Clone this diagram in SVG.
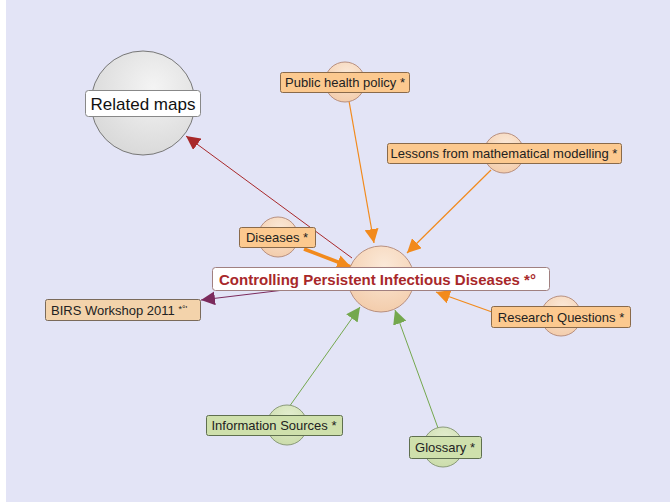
<svg xmlns="http://www.w3.org/2000/svg" width="670" height="502" viewBox="0 0 670 502">
<defs>
<radialGradient id="gGray" cx="0.6" cy="0.35" r="0.75"><stop offset="0" stop-color="#f4f4f4"/><stop offset="1" stop-color="#d6d6d6"/></radialGradient>
<radialGradient id="gPeach" cx="0.55" cy="0.3" r="0.8"><stop offset="0" stop-color="#fbe9d8"/><stop offset="1" stop-color="#f2c9a6"/></radialGradient>
<radialGradient id="gGreen" cx="0.55" cy="0.3" r="0.8"><stop offset="0" stop-color="#e4eed0"/><stop offset="1" stop-color="#c8daa6"/></radialGradient>
<marker id="aOrange" viewBox="0 0 10 10" refX="10" refY="5" markerWidth="14" markerHeight="14" markerUnits="userSpaceOnUse" orient="auto"><path d="M0,0 L10,5 L0,10 z" fill="#f28a1c"/></marker>
<marker id="aRed" viewBox="0 0 10 10" refX="10" refY="5" markerWidth="14" markerHeight="14" markerUnits="userSpaceOnUse" orient="auto"><path d="M0,0 L10,5 L0,10 z" fill="#a8282a"/></marker>
<marker id="aPurple" viewBox="0 0 10 10" refX="10" refY="5" markerWidth="14" markerHeight="14" markerUnits="userSpaceOnUse" orient="auto"><path d="M0,0 L10,5 L0,10 z" fill="#7b2a5c"/></marker>
<marker id="aGreen" viewBox="0 0 10 10" refX="10" refY="5" markerWidth="14" markerHeight="14" markerUnits="userSpaceOnUse" orient="auto"><path d="M0,0 L10,5 L0,10 z" fill="#74a84e"/></marker>
</defs>
<style>
.lbl{font-family:"Liberation Sans",Arial,sans-serif;font-size:13px;fill:#222}
.orangeBox{fill:#fcc98f;stroke:#8a6a4a;stroke-width:1}
.greenBox{fill:#cfe0ac;stroke:#5f6f4f;stroke-width:1}
.peachC{fill:url(#gPeach);stroke:#b89080;stroke-width:1}
.greenC{fill:url(#gGreen);stroke:#8a9a7a;stroke-width:1}
.eO{stroke:#f28a1c;stroke-width:1.2;fill:none}
.eG{stroke:#74a84e;stroke-width:1;fill:none}
</style>
<rect x="0" y="0" width="670" height="502" fill="#ffffff"/>
<rect x="6" y="0" width="664" height="502" fill="#e3e4f6"/>
<g id="connectors">
<line x1="352" y1="258" x2="186" y2="136" stroke="#a8282a" stroke-width="1" marker-end="url(#aRed)"/>
<line x1="349" y1="101" x2="374" y2="243" class="eO" marker-end="url(#aOrange)"/>
<line x1="491" y1="170" x2="407" y2="253" class="eO" marker-end="url(#aOrange)"/>
<line x1="304" y1="249" x2="351" y2="267" stroke="#f28a1c" stroke-width="3.5" marker-end="url(#aOrange)"/>
<line x1="492" y1="312" x2="436" y2="292" class="eO" marker-end="url(#aOrange)"/>
<line x1="284" y1="290" x2="201" y2="300" stroke="#7b2a5c" stroke-width="1" marker-end="url(#aPurple)"/>
<line x1="289" y1="407" x2="360" y2="307" class="eG" marker-end="url(#aGreen)"/>
<line x1="438" y1="428" x2="395" y2="310" class="eG" marker-end="url(#aGreen)"/>
</g>
<g id="related-maps">
<circle cx="143" cy="103" r="52" fill="url(#gGray)" stroke="#777" stroke-width="1"/>
<rect x="85.5" y="90.5" width="115" height="26" rx="3" fill="#fff" stroke="#888"/>
<text x="143" y="109.5" text-anchor="middle" font-family="Liberation Sans,Arial,sans-serif" font-size="17" fill="#111">Related maps</text>
</g>
<g id="public-health-policy">
<circle cx="345" cy="82" r="20" class="peachC"/>
<rect x="280.5" y="72.5" width="129" height="20" rx="2" class="orangeBox"/>
<text x="345" y="87" text-anchor="middle" class="lbl">Public health policy *</text>
</g>
<g id="lessons">
<circle cx="504" cy="153" r="20" class="peachC"/>
<rect x="387.5" y="143.5" width="234" height="20" rx="2" class="orangeBox"/>
<text x="504" y="158" text-anchor="middle" class="lbl">Lessons from mathematical modelling *</text>
</g>
<g id="diseases">
<circle cx="278" cy="237" r="20" class="peachC"/>
<rect x="239.5" y="227.5" width="76" height="20" rx="2" class="orangeBox"/>
<text x="277" y="242" text-anchor="middle" class="lbl">Diseases *</text>
</g>
<g id="central">
<circle cx="381" cy="279" r="33" class="peachC"/>
<rect x="212.5" y="267.5" width="337" height="23" rx="3" fill="#fff" stroke="#a08080"/>
<text x="219" y="284.5" font-family="Liberation Sans,Arial,sans-serif" font-size="15" font-weight="bold" fill="#a8282a">Controlling Persistent Infectious Diseases *°</text>
</g>
<g id="birs">
<rect x="45.5" y="299.5" width="155" height="21" rx="2" fill="#f3d3ab" stroke="#7a6a5a"/>
<text x="51" y="314.5" class="lbl">BIRS Workshop 2011 <tspan font-size="9" dy="-3">*°'</tspan></text>
</g>
<g id="research-questions">
<circle cx="561" cy="316" r="20" class="peachC"/>
<rect x="491.5" y="306.5" width="139" height="21" rx="2" class="orangeBox"/>
<text x="561" y="321.5" text-anchor="middle" class="lbl">Research Questions *</text>
</g>
<g id="information-sources">
<circle cx="287" cy="425" r="20" class="greenC"/>
<rect x="206.5" y="415.5" width="136" height="20" rx="2" class="greenBox"/>
<text x="274" y="430" text-anchor="middle" class="lbl">Information Sources *</text>
</g>
<g id="glossary">
<circle cx="443" cy="447" r="20" class="greenC"/>
<rect x="409.5" y="436.5" width="72" height="22" rx="2" class="greenBox"/>
<text x="445" y="451.5" text-anchor="middle" class="lbl">Glossary *</text>
</g>
</svg>
